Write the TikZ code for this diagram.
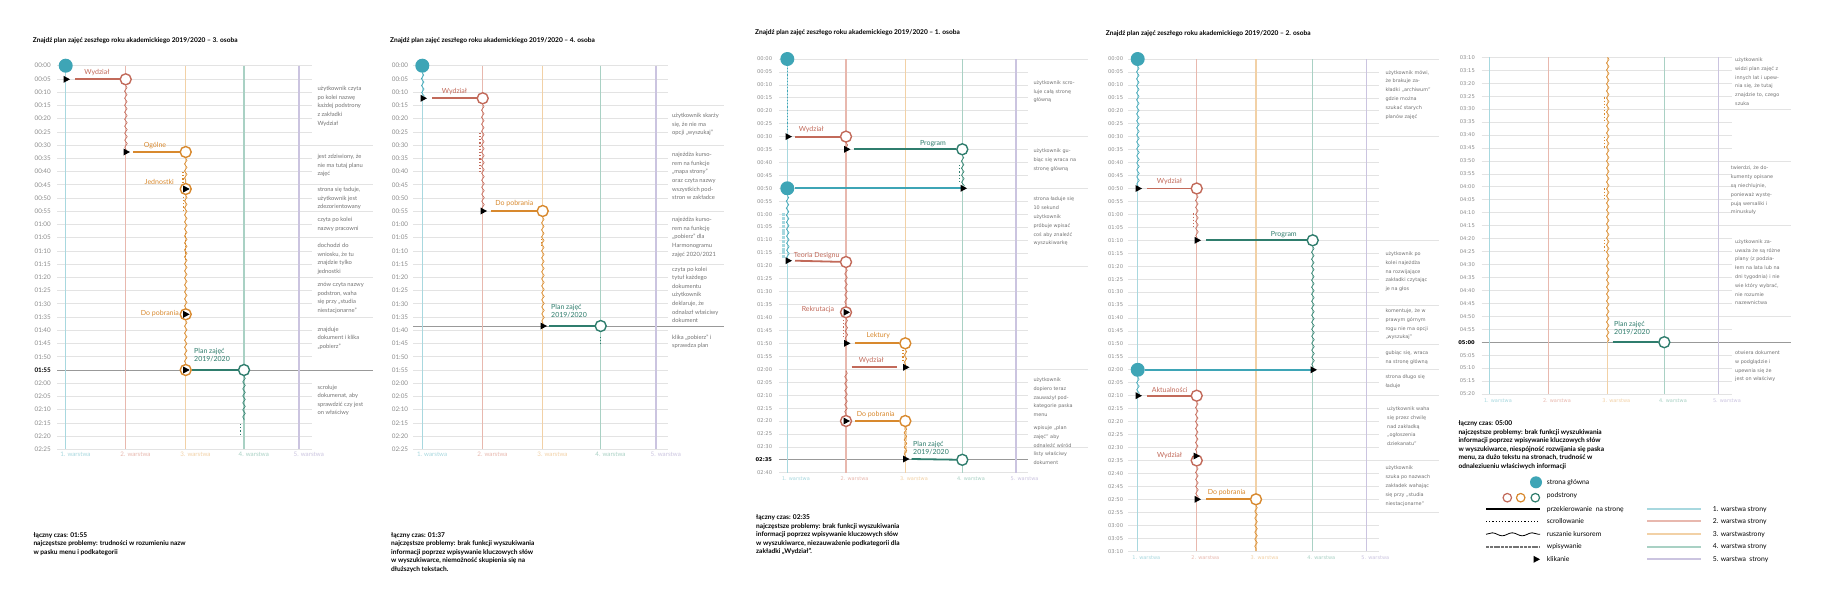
\documentclass[tikz,border=0pt]{standalone}
\usepackage{fontspec}
\setmainfont{Lato}
\newfontfamily\dvs{DejaVu Sans}
\usetikzlibrary{decorations.pathmorphing}

\definecolor{cteal}{HTML}{3EA5B6}
\definecolor{cred}{HTML}{C26A5A}
\definecolor{corange}{HTML}{D8892E}
\definecolor{cgreen}{HTML}{2F7D6D}
\definecolor{w1}{HTML}{A8D8DF}
\definecolor{w2}{HTML}{E8B8AE}
\definecolor{w3}{HTML}{F2D1A6}
\definecolor{w4}{HTML}{A9D1C4}
\definecolor{w5}{HTML}{CBC4E0}

\tikzset{
  siatka/.style={draw=black!11, line width=0.7pt},
  ciemna/.style={draw=black!40, line width=0.7pt},
  czasA/.style={inner sep=0pt, text=black!45, font=\fontsize{6.3}{6.3}\selectfont},
  czasAb/.style={inner sep=0pt, text=black, font=\fontsize{6.3}{6.3}\selectfont\bfseries},
  czasB/.style={inner sep=0pt, text=black!45, font=\dvs\fontsize{5.2}{5.2}\selectfont},
  czasBb/.style={inner sep=0pt, text=black, font=\dvs\fontsize{5.2}{5.2}\selectfont\bfseries},
  uwA/.style={inner sep=0pt, anchor=north west, align=left, text=black!55,
    font=\fontsize{5.8}{8.6}\selectfont},
  uwB/.style={inner sep=0pt, anchor=north west, align=left, text=black!55,
    font=\dvs\fontsize{4.9}{8.8}\selectfont},
  etyk/.style={inner sep=0pt, text=#1, font=\fontsize{7}{7.6}\selectfont},
  warstwaA/.style={inner sep=0pt, anchor=west, text=#1, font=\fontsize{6.2}{6.2}\selectfont},
  warstwaB/.style={inner sep=0pt, anchor=west, text=#1, font=\dvs\fontsize{5}{5}\selectfont},
  tytul/.style={inner sep=0pt, anchor=west, font=\fontsize{6.6}{6.6}\selectfont\bfseries},
  opis/.style={inner sep=0pt, anchor=north west, align=left,
    font=\fontsize{6.6}{8.5}\selectfont\bfseries},
  legenda/.style={inner sep=0pt, anchor=west, font=\fontsize{6.8}{6.8}\selectfont},
  glowna/.style={circle, fill=cteal, minimum size=14pt, inner sep=0pt},
  pod/.style={circle, draw=#1, fill=white, line width=1.4pt, minimum size=11pt, inner sep=0pt},
  przek/.style={draw=#1, line width=1.8pt},
  kursor/.style={draw=#1, line width=0.6pt, decorate,
    decoration={snake, segment length=7pt, amplitude=1.3pt}},
  przewin/.style={draw=#1, line width=1.2pt, dash pattern=on 1.2pt off 2pt},
  wpis/.style={draw=#1, line width=2.6pt, dash pattern=on 3pt off 0.8pt},
  klik/.pic={\fill[black] (-2.5,-3.5) -- (4,0) -- (-2.5,3.5) -- cycle;}
}

% #1 label x, #2-#3 grid x, #4 y of first row, #5 row step, #6 first minute,
% #7 last row, #8 bold row, #9 label style
\newcommand{\osczasu}[9]{%
  \foreach \i in {0,...,#7}{%
    \pgfmathsetmacro{\yy}{#4+\i*#5}%
    \pgfmathtruncatemacro{\mm}{#6+5*\i}%
    \pgfmathtruncatemacro{\hh}{floor(\mm/60)}%
    \pgfmathtruncatemacro{\mi}{\mm-60*\hh}%
    \draw[siatka] (#2,\yy) -- (#3,\yy);
    \ifnum\i=#8\relax
      \node[#9b, anchor=east] at (#1,\yy) {0\hh:\ifnum\mi<10 0\fi\mi};
    \else
      \node[#9, anchor=east] at (#1,\yy) {0\hh:\ifnum\mi<10 0\fi\mi};
    \fi
  }}

\begin{document}
\begin{tikzpicture}[x=1pt, y=-1pt]
  \useasboundingbox[fill=white] (0,0) rectangle (1821,600);

  % --- 3. osoba
  \node[tytul] at (32.7,40.7) {Znajdź plan zajęć zeszłego roku akademickiego 2019/2020 – 3. osoba};
  \osczasu{51}{57.3}{311.7}{65.7}{13.23}{0}{29}{23}{czasA}
  \foreach \yy in {145.1,184.8,211.2,237.7,277.4,317.1}
    \draw[siatka] (311.7,\yy) -- (372.7,\yy);
  \draw[ciemna] (57.3,370) -- (372.7,370);
  \foreach \x/\c/\n in {65.7/w1/1,125.7/w2/2,185.7/w3/3,244/w4/4,299/w5/5}{
    \draw[\c, line width=1.1pt] (\x,65.7) -- (\x,449.4);
    \node[warstwaA=\c] at (\x-5.5,454.3) {\n. warstwa};
  }
  \node[glowna] (p1h) at (65.7,65.7) {};
  \coordinate (p1k1) at (66,79.3);
  \node[pod=cred] (p1w) at (125.7,79.3) {};
  \coordinate (p1k2) at (126,152);
  \node[pod=corange] (p1o) at (185.7,152) {};
  \node[pod=corange] (p1j) at (185.7,189) {};
  \node[pod=corange] (p1p) at (185.7,314.3) {};
  \node[pod=corange] (p1o2) at (185.7,370) {};
  \node[pod=cgreen] (p1pl) at (244,370) {};
  \coordinate (p1e) at (244,420);
  \draw[przek=cred] ([xshift=9pt]p1k1) -- (p1w);
  \draw[kursor=cred] (p1w) -- (p1k2);
  \draw[przek=corange] ([xshift=7pt]p1k2) -- (p1o);
  \draw[kursor=corange] (p1o) -- (p1j);
  \draw[kursor=corange] (p1j) -- (p1p);
  \draw[kursor=corange] (p1p) -- (p1o2);
  \draw[przek=cgreen] (p1o2) -- (p1pl);
  \draw[kursor=cgreen] (p1pl) -- (p1e);
  \draw[przewin=corange] (183,172) -- (183,184);
  \draw[przewin=corange] (183.3,196.7) -- (183.3,210);
  \draw[przewin=corange] (185.5,230) -- (185.5,267);
  \draw[przewin=cgreen] (240.7,424) -- (240.7,436);
  \foreach \k in {p1k1,p1k2,p1j,p1p,p1o2} \pic at (\k) {klik};
  \node[etyk=cred] (p1lw) at (97,72.3) {Wydział};
  \node[etyk=corange] (p1lo) at (155,145.3) {Ogólne};
  \node[etyk=corange, anchor=east] (p1lj) at (174,181.7) {Jednostki};
  \node[etyk=corange, anchor=east] (p1lp) at (179,314) {Do pobrania};
  \node[etyk=cgreen, anchor=west, align=left] (p1lpl) at (194,355) {Plan zajęć\\2019/2020};
  \node[uwA] at (317.3,86.3) {użytkownik czyta\\po kolei nazwę\\każdej podstrony\\z zakładki\\Wydział};
  \node[uwA] at (317.3,154.3) {jest zdziwiony, że\\nie ma tutaj planu\\zajęć};
  \node[uwA] at (317.3,187) {strona się ładuje,\\użytkownik jest\\zdezorientowany};
  \node[uwA] at (317.3,217) {czyta po kolei\\nazwy pracowni};
  \node[uwA] at (317.3,243.3) {dochodzi do\\wniosku, że tu\\znajdzie tylko\\jednostki};
  \node[uwA] at (317.3,282.3) {znów czyta nazwy\\podstron, waha\\się przy „studia\\niestacjonarne”};
  \node[uwA] at (317.3,326.6) {znajduje\\dokument i klika\\„pobierz”};
  \node[uwA] at (317.3,384.6) {scroluje\\dokumenat, aby\\sprawdzić czy jest\\on właściwy};
  \node[opis] at (33.3,532.1) {łączny czas: 01:55\\najczęstsze problemy: trudności w rozumieniu nazw\\w pasku menu i podkategorii};

  % --- 4. osoba
  \node[tytul] at (390,40.7) {Znajdź plan zajęć zeszłego roku akademickiego 2019/2020 – 4. osoba};
  \osczasu{408.3}{413.3}{668.3}{65.7}{13.23}{0}{29}{-1}{czasA}
  \foreach \yy in {105.4,145.1,211.2,264.2}
    \draw[siatka] (668.3,\yy) -- (724,\yy);
  \draw[ciemna] (413.3,326) -- (724,326);
  \foreach \x/\c/\n in {422.3/w1/1,482.7/w2/2,542.7/w3/3,600.7/w4/4,656/w5/5}{
    \draw[\c, line width=1.1pt] (\x,65.7) -- (\x,449.4);
    \node[warstwaA=\c] at (\x-5.5,454.3) {\n. warstwa};
  }
  \node[glowna] (p2h) at (422.3,65.7) {};
  \coordinate (p2k1) at (423,98.3);
  \node[pod=cred] (p2w) at (482.7,98.3) {};
  \coordinate (p2k2) at (483,211);
  \node[pod=corange] (p2p) at (542.7,211) {};
  \coordinate (p2k3) at (543,326);
  \node[pod=cgreen] (p2pl) at (600.7,326) {};
  \draw[kursor=cteal] (p2h) -- (p2k1);
  \draw[przek=cred] ([xshift=9pt]p2k1) -- (p2w);
  \draw[kursor=cred] (p2w) -- (p2k2);
  \draw[przek=corange] ([xshift=8pt]p2k2) -- (p2p);
  \draw[kursor=corange] (p2p) -- (p2k3);
  \draw[przek=cgreen] ([xshift=6pt]p2k3) -- (p2pl);
  \draw[przewin=cred] (480,132.7) -- (480,171.7);
  \draw[przewin=corange] (541.7,239) -- (541.7,246);
  \draw[przewin=cgreen] (600.7,337) -- (600.7,344);
  \foreach \k in {p2k1,p2k2,p2k3} \pic at (\k) {klik};
  \node[etyk=cred] (p2lw) at (454.5,92) {Wydział};
  \node[etyk=corange] (p2lp) at (514.3,204) {Do pobrania};
  \node[etyk=cgreen, anchor=west, align=left] (p2lpl) at (551,311) {Plan zajęć\\2019/2020};
  \node[uwA] at (672,113) {użytkownik skarży\\się, że nie ma\\opcji „wyszukaj”};
  \node[uwA] at (672,152.3) {najeżdża kurso-\\rem na funkcje\\„mapa strony”\\oraz czyta nazwy\\wszystkich pod-\\stron w zakładce};
  \node[uwA] at (672,217.3) {najeżdża kurso-\\rem na funkcję\\„pobierz” dla\\Harmonogramu\\zajęć 2020/2021};
  \node[uwA] at (672,266.6) {czyta po kolei\\tytuł każdego\\dokumentu\\użytkownik\\deklaruje, że\\odnalazł właściwy\\dokument};
  \node[uwA] at (672,334.6) {klika „pobierz” i\\sprawdza plan};
  \node[opis] at (391,532.1) {łączny czas: 01:37\\najczęstsze problemy: brak funkcji wyszukiwania\\informacji poprzez wpisywanie kluczowych słów\\w wyszukiwarce, niemożność skupienia się na\\dłuższych tekstach.};

  % --- 1. osoba
  \node[tytul] at (755,32.3) {Znajdź plan zajęć zeszłego roku akademickiego 2019/2020 – 1. osoba};
  \osczasu{772.3}{779}{1028.3}{59}{12.93}{0}{32}{31}{czasB}
  \foreach \yy in {59,136.6,188.3,265.9,369.3,446.9}
    \draw[siatka] (1028.3,\yy) -- (1088.3,\yy);
  \draw[ciemna] (779,459.8) -- (1028.3,459.8);
  \foreach \x/\c/\n in {787.3/w1/1,846/w2/2,905.3/w3/3,962.3/w4/4,1016/w5/5}{
    \draw[\c, line width=1.1pt] (\x,59) -- (\x,472.8);
    \node[warstwaB=\c] at (\x-5.5,479) {\n. warstwa};
  }
  \node[glowna] (p3h) at (787.3,59) {};
  \coordinate (p3k1) at (788,136.6);
  \node[pod=cred] (p3w) at (846,136.6) {};
  \coordinate (p3k2) at (846.5,149.3);
  \node[pod=cgreen] (p3pr) at (962.3,149.3) {};
  \coordinate (p3k3) at (963,188.3);
  \node[glowna] (p3h2) at (787.3,188.3) {};
  \coordinate (p3k4) at (788,260.7);
  \node[pod=cred] (p3t) at (846,262) {};
  \node[pod=cred] (p3r) at (846,312.3) {};
  \coordinate (p3k5) at (846.5,343.3);
  \node[pod=corange] (p3l) at (905.3,343.3) {};
  \coordinate (p3k6) at (905.5,367.3);
  \coordinate (p3wa) at (851.7,367);
  \coordinate (p3wb) at (897.3,367);
  \coordinate (p3k7) at (846,371);
  \node[pod=cred] (p3r2) at (846,421) {};
  \node[pod=corange] (p3p) at (905.3,421) {};
  \coordinate (p3k8) at (905.5,459);
  \node[pod=cgreen] (p3pl) at (962.3,459.8) {};
  \draw[przewin=cteal] (787.3,68) -- (787.3,131.7);
  \draw[przek=cred] ([xshift=7pt]p3k1) -- (p3w);
  \draw[kursor=cred] (p3w) -- (p3k2);
  \draw[przek=cgreen] ([xshift=7pt]p3k2) -- (p3pr);
  \draw[kursor=cgreen] (p3pr) -- (p3k3);
  \draw[przewin=cgreen] (959.5,165) -- (959.5,183.3);
  \draw[przek=cteal] (p3h2) -- (p3k3);
  \draw[wpis=w1] (783.7,213.3) -- (783.7,258.3);
  \draw[kursor=cteal] (p3h2) -- (p3k4);
  \draw[przek=cred] ([xshift=7pt]p3k4) -- (p3t);
  \draw[kursor=cred] (p3t) -- (p3r);
  \draw[kursor=cred] (p3r) -- (p3k5);
  \draw[przewin=cred] (843.5,320) -- (843.5,338);
  \draw[przek=corange] ([xshift=8pt]p3k5) -- (p3l);
  \draw[kursor=corange] (p3l) -- (p3k6);
  \draw[przewin=corange] (903,350) -- (903,362);
  \draw[przek=cred] (p3wa) -- (p3wb);
  \draw[kursor=cred] (p3k7) -- (p3r2);
  \draw[przek=corange] ([xshift=9pt]p3r2.center) -- (p3p);
  \draw[wpis=w3] (905.3,427) -- (905.3,453);
  \draw[kursor=corange] (p3p) -- (p3k8);
  \draw[przek=cgreen] ([xshift=6pt]p3k8) -- (p3pl);
  \foreach \k in {p3k1,p3k2,p3k3,p3k4,p3r,p3k5,p3k6,p3r2,p3k8} \pic at (\k) {klik};
  \node[etyk=cred] (p3lw) at (811.3,130) {Wydział};
  \node[etyk=cgreen] (p3lpr) at (933,143.3) {Program};
  \node[etyk=cred] (p3lt) at (816.7,256) {Teoria Designu};
  \node[etyk=cred, anchor=east] (p3lr) at (834.3,310) {Rekrutacja};
  \node[etyk=corange] (p3ll) at (878.3,336) {Lektury};
  \node[etyk=cred] (p3lw2) at (871.3,361) {Wydział};
  \node[etyk=corange] (p3lp) at (875.7,414.3) {Do pobrania};
  \node[etyk=cgreen, anchor=west, align=left] (p3lpl) at (913,448.2) {Plan zajęć\\2019/2020};
  \node[uwB] at (1033.3,80.3) {użytkownik scro-\\luje całą stronę\\główną};
  \node[uwB] at (1033.3,148.6) {użytkownik gu-\\biąc się wraca na\\stronę główną};
  \node[uwB] at (1033.3,196.9) {strona ładuje się\\10 sekund\\użytkownik\\próbuje wpisać\\coś aby znaleźć\\wyszukiwarkę};
  \node[uwB] at (1033.3,377.6) {użytkownik\\dopiero teraz\\zauważył pod-\\kategorie paska\\menu};
  \node[uwB] at (1033.3,425.6) {wpisuje „plan\\zajęć” aby\\odnaleźć wśród\\listy właściwy\\dokument};
  \node[opis] at (756,514.8) {łączny czas: 02:35\\najczęstsze problemy: brak funkcji wyszukiwania\\informacji poprzez wpisywanie kluczowych słów\\w wyszukiwarce, niezauważenie podkategorii dla\\zakładki „Wydział”.};

  % --- 2. osoba
  \node[tytul] at (1105.7,33.3) {Znajdź plan zajęć zeszłego roku akademickiego 2019/2020 – 2. osoba};
  \osczasu{1123.3}{1128.3}{1379.3}{59}{12.95}{0}{38}{-1}{czasB}
  \foreach \yy in {59,136.7,240.3,305,343.9,369.8,395.7,460.5,512.3}
    \draw[siatka] (1379.3,\yy) -- (1439,\yy);
  \foreach \x/\c/\n in {1137.7/w1/1,1196.7/w2/2,1256/w3/3,1312.7/w4/4,1366.7/w5/5}{
    \draw[\c, line width=1.1pt] (\x,59) -- (\x,551.1);
    \node[warstwaB=\c] at (\x-5.5,557.7) {\n. warstwa};
  }
  \node[glowna] (p4h) at (1137.7,59) {};
  \coordinate (p4k1) at (1138,188.5);
  \node[pod=cred] (p4w) at (1196.7,188.5) {};
  \coordinate (p4k2) at (1197,240.3);
  \node[pod=cgreen] (p4pr) at (1312.7,240.3) {};
  \coordinate (p4k3) at (1313,369.8);
  \node[glowna] (p4h2) at (1137.7,369.8) {};
  \coordinate (p4k4) at (1138,395.7);
  \node[pod=cred] (p4a) at (1196.7,395.7) {};
  \node[pod=cred] (p4w2) at (1196.7,460.5) {};
  \coordinate (p4k6) at (1196,456);
  \coordinate (p4k5) at (1197,499.3);
  \node[pod=corange] (p4p) at (1256,499.3) {};
  \coordinate (p4e) at (1256,551.1);
  \draw[kursor=cteal] (p4h) -- (p4k1);
  \draw[przek=cred] ([xshift=9pt]p4k1) -- (p4w);
  \draw[kursor=cred] (p4w) -- (p4k2);
  \draw[przewin=cred] (1193.3,213.3) -- (1193.3,227.7);
  \draw[przek=cgreen] ([xshift=9pt]p4k2) -- (p4pr);
  \draw[kursor=cgreen] (p4pr) -- (p4k3);
  \draw[przek=cteal] (p4h2) -- (p4k3);
  \draw[kursor=cteal] (p4h2) -- (p4k4);
  \draw[przek=cred] ([xshift=9pt]p4k4) -- (p4a);
  \draw[kursor=cred] (p4a) -- (p4w2);
  \draw[kursor=cred] (p4w2) -- (p4k5);
  \draw[przek=corange] ([xshift=9pt]p4k5) -- (p4p);
  \draw[kursor=corange] (p4p) -- (p4e);
  \foreach \k in {p4k1,p4k2,p4k3,p4k4,p4k6,p4k5} \pic at (\k) {klik};
  \node[etyk=cred] (p4lw) at (1169.5,181.7) {Wydział};
  \node[etyk=cgreen] (p4lpr) at (1283.8,234.3) {Program};
  \node[etyk=cred] (p4la) at (1169.7,390) {Aktualności};
  \node[etyk=cred, anchor=east] (p4lw2) at (1182.3,456) {Wydział};
  \node[etyk=corange] (p4lp) at (1226.7,492.7) {Do pobrania};
  \node[uwB] at (1385.3,69.9) {użytkownik mówi,\\że brakuje za-\\kładki „archiwum”\\gdzie można\\szukać starych\\planów zajęć};
  \node[uwB] at (1385.3,251.6) {użytkownik po\\kolei najeżdża\\na rozwijające\\zakładki czytając\\je na głos};
  \node[uwB] at (1385.3,308.6) {komentuje, że w\\prawym górnym\\rogu nie ma opcji\\„wyszukaj”};
  \node[uwB] at (1385.3,350.6) {gubiąc się, wraca\\na stronę główną};
  \node[uwB] at (1385.3,374.6) {strona długo się\\ładuje};
  \node[uwB] at (1387,406.6) {użytkownik waha\\się przez chwilę\\nad zakładką\\„ogłoszenia\\dziekanatu”};
  \node[uwB] at (1385.3,465.9) {użytkownik\\szuka po nazwach\\zakładek wahając\\się przy „studia\\niestacjonarne”};

  % --- 2. osoba, ciąg dalszy
  \osczasu{1475}{1481.7}{1731.7}{57.3}{12.95}{190}{26}{22}{czasB}
  \foreach \yy in {109.1,160.9,225.6,316.3}
    \draw[siatka] (1731.7,\yy) -- (1790.7,\yy);
  \draw[ciemna] (1481.7,342.2) -- (1790.7,342.2);
  \foreach \x/\c/\n in {1489.3/w1/1,1548.3/w2/2,1607.7/w3/3,1664.3/w4/4,1718.3/w5/5}{
    \draw[\c, line width=1.1pt] (\x,57.3) -- (\x,394);
    \node[warstwaB=\c] at (\x-5.5,401) {\n. warstwa};
  }
  \coordinate (p5s) at (1607.7,57.3);
  \coordinate (p5k) at (1607.7,342.2);
  \node[pod=cgreen] (p5pl) at (1664.3,342.2) {};
  \draw[kursor=corange] (p5s) -- (p5k);
  \draw[przek=cgreen] ([xshift=5pt]p5k) -- (p5pl);
  \foreach \a/\b in {97.3/122.3,136.7/147.7,188.3/199,240/251}
    \draw[przewin=corange] (1604.3,\a) -- (1604.3,\b);
  \node[etyk=cgreen, anchor=west, align=left] (p5lpl) at (1614,328.2) {Plan zajęć\\2019/2020};
  \node[uwB] at (1735,57.6) {użytkownik\\widzi plan zajęć z\\innych lat i upew-\\nia się, że tutaj\\znajdzie to, czego\\szuka};
  \node[uwB] at (1730.7,165.9) {twierdzi, że do-\\kumenty opisane\\są niechlujnie,\\ponieważ wystę-\\pują wersaliki i\\minuskuły};
  \node[uwB] at (1735,239.3) {użytkownik za-\\uważa że są różne\\plany (z podzia-\\łem na lata lub na\\dni tygodnia) i nie\\wie który wybrać,\\nie rozumie\\nazewnictwa};
  \node[uwB] at (1735,350.6) {otwiera dokument\\w podglądzie i\\upewnia się że\\jest on właściwy};
  \node[opis] at (1458.3,420.8) {łączny czas: 05:00\\najczęstsze problemy: brak funkcji wyszukiwania\\informacji poprzez wpisywanie kluczowych słów\\w wyszukiwarce, niespójność rozwijania się paska\\menu, za dużo tekstu na stronach, trudność w\\odnaleziueniu właściwych informacji};

  % --- legenda
  \node[glowna, minimum size=12pt] (lgh) at (1536,482.3) {};
  \node[pod=cred, minimum size=8.5pt, line width=1.2pt] (lg1) at (1507.3,497.7) {};
  \node[pod=corange, minimum size=8.5pt, line width=1.2pt] (lg2) at (1520.7,497.7) {};
  \node[pod=cgreen, minimum size=8.5pt, line width=1.2pt] (lg3) at (1535.3,497.7) {};
  \draw[przek=black] (1486,509.3) -- (1540,509.3);
  \draw[przewin=black, line width=1pt] (1486,521.3) -- (1540,521.3);
  \draw[kursor=black, line width=0.8pt, decoration={snake, segment length=20pt, amplitude=1.5pt}]
    (1486,534.3) -- (1540,534.3);
  \draw[wpis=black!55, line width=1.8pt] (1486,546.7) -- (1540,546.7);
  \pic at (1536,559.3) {klik};
  \foreach \yy/\t in {482.3/strona główna,495.3/podstrony,509.3/przekierowanie\ \ na stronę,
      521.3/scrollowanie,534.3/ruszanie kursorem,546.7/wpisywanie,559.3/klikanie}
    \node[legenda] at (1546.7,\yy) {\t};
  \foreach \yy/\c/\t in {509.3/w1/1. warstwa strony,521.3/w2/2. warstwa strony,
      534.3/w3/3. warstwastrony,546.7/w4/4. warstwa strony,559.3/w5/5. warstwa\ \ strony}{
    \draw[\c, line width=2.2pt] (1647.3,\yy) -- (1700.7,\yy);
    \node[legenda] at (1712.7,\yy) {\t};
  }
\end{tikzpicture}
\end{document}
